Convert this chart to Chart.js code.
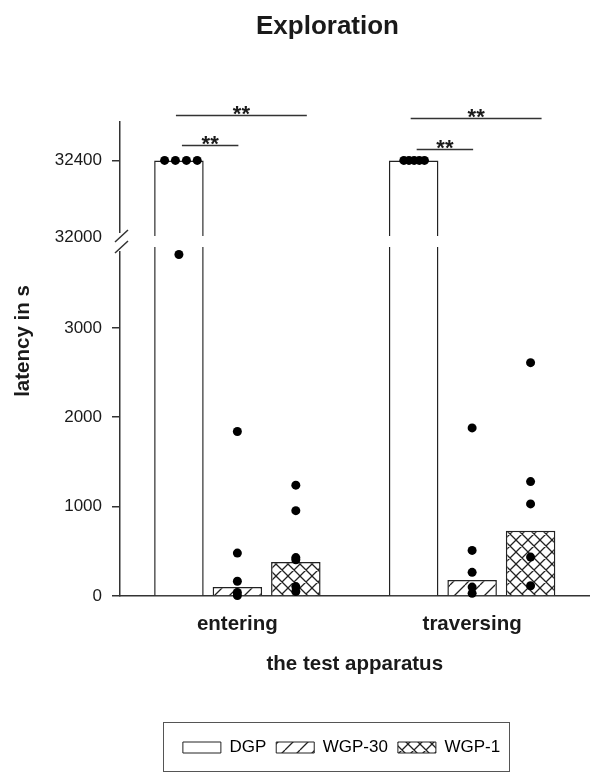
<!DOCTYPE html>
<html>
<head>
<meta charset="utf-8">
<title>Exploration</title>
<script src="https://cdn.jsdelivr.net/npm/chart.js@4.4.1/dist/chart.umd.min.js"></script>
<style>
  html, body { margin: 0; padding: 0; background: #fff; }
  #wrap { width: 594px; height: 774px; position: relative; }
</style>
</head>
<body>
<div id="wrap"><canvas id="exploracionChart"></canvas></div>
<script>
// categories and groups
const categories = ['entering', 'traversing'];
const groupNames = ['DGP', 'WGP-30', 'WGP-1'];

// bar heights (latency in s), one value per category
const barDGP = [32400, 32400];
const barWGP30 = [100, 180];
const barWGP1 = [380, 730];

// single animals, per category
const dotsDGP = [[32400, 32400, 32400, 32400, 3820], [32400, 32400, 32400, 32400, 32400]];
const dotsWGP30 = [[1840, 480, 165, 40, 5], [1880, 510, 265, 100, 30]];
const dotsWGP1 = [[1240, 955, 430, 405, 105, 50], [2610, 1280, 1030, 435, 115]];

// tick labels of the two axis segments
const lowerTicks = [0, 1000, 2000, 3000];
const upperTicks = [32000, 32400];

// significance brackets: category, group from -> group to, height on upper segment
const sigBrackets = [
  { cat: 0, from: 0, to: 1, level: 32480, label: '**' },
  { cat: 0, from: 0, to: 2, level: 32636, label: '**' },
  { cat: 1, from: 0, to: 1, level: 32459, label: '**' },
  { cat: 1, from: 0, to: 2, level: 32621, label: '**' }
];

// axis break
const lowerMax = 3960;
const upperMin = 31975;
const upperMax = 32600;

// group layout inside a category (category units)
const pitch = 0.249;
const barPct = 0.847;
const barSets = [barDGP, barWGP30, barWGP1];
const dotSets = [dotsDGP, dotsWGP30, dotsWGP1];
// sideways spread of coinciding points (fraction of a category)
const dotSpread = [[[-0.061, -0.015, 0.032, 0.078, 0], [-0.042, -0.020, 0.002, 0.024, 0.046]], null, null];

const FONT = "'Liberation Sans', Arial, Helvetica, sans-serif";
const INK = '#1a1a1a';
Chart.defaults.font.family = FONT;
Chart.defaults.color = INK;

function hatch(size, cross) {
  const c = document.createElement('canvas');
  c.width = size; c.height = size;
  const g = c.getContext('2d');
  g.fillStyle = '#fff';
  g.fillRect(0, 0, size, size);
  g.strokeStyle = '#222';
  g.lineWidth = 1.3;
  g.beginPath();
  for (const o of [-size, 0, size]) {
    g.moveTo(o, size); g.lineTo(o + size, 0);
    if (cross) { g.moveTo(o, 0); g.lineTo(o + size, size); }
  }
  g.stroke();
  return g.createPattern(c, 'repeat');
}
const fills = ['#fff', hatch(15, false), hatch(12, true)];

const groupX = (i, k) => i + (k - 1) * pitch;

function dotPoints(upper) {
  const pts = [];
  dotSets.forEach((perCat, k) => {
    perCat.forEach((vals, i) => {
      vals.forEach((v, j) => {
        if ((v >= upperMin) !== upper) return;
        const dx = dotSpread[k] ? dotSpread[k][i][j] : 0;
        pts.push({ x: groupX(i, k) + dx, y: v });
      });
    });
  });
  return pts;
}

const dotStyle = { type: 'scatter', xAxisID: 'xDots', pointRadius: 4.5, pointHoverRadius: 4.5,
  pointBackgroundColor: '#000', pointBorderWidth: 0, clip: false, order: 0 };
const barStyle = { xAxisID: 'xDots', order: 1, grouped: false, borderColor: '#222', borderWidth: 1.5,
  categoryPercentage: 1, barPercentage: barPct };

const datasets = [
  Object.assign({ label: 'dots upper', yAxisID: 'yUpper', data: dotPoints(true) }, dotStyle),
  Object.assign({ label: 'dots lower', yAxisID: 'yLower', data: dotPoints(false) }, dotStyle)
];
// lower part of every bar
groupNames.forEach((name, k) => {
  datasets.push(Object.assign({ label: name, yAxisID: 'yLower', backgroundColor: fills[k],
    data: barSets[k].map((v, i) => ({ x: groupX(i, k), y: Math.min(v, lowerMax) })) }, barStyle));
});
// part above the break
groupNames.forEach((name, k) => {
  datasets.push(Object.assign({ label: name + ' upper', yAxisID: 'yUpper', backgroundColor: fills[k],
    data: barSets[k].map((v, i) => ({ x: groupX(i, k), y: v > upperMin ? [upperMin, v] : null })) }, barStyle));
});

function yAxis(weight, min, max, ticks) {
  return {
    type: 'linear', position: 'left', stack: 'y', stackWeight: weight,
    min: min, max: max, stacked: false,
    afterBuildTicks: s => { s.ticks = ticks.map(v => ({ value: v })); },
    afterFit: s => { s.width = 31; },
    grid: { drawOnChartArea: false, tickLength: 8, color: '#333', lineWidth: 1.5 },
    border: { color: '#333', width: 1.5 },
    ticks: { font: { size: 17 }, color: INK, padding: 10, callback: v => String(v) }
  };
}

// extra drawing: axis break, brackets, titles, legend frame
const extras = {
  id: 'extras',
  afterLayout(chart) {
    // labels of the y segments are clipped to the axis box, let them use the margin
    chart.scales.yUpper.left = 0;
    chart.scales.yLower.left = 0;
  },
  afterDraw(chart) {
    const ctx = chart.ctx;
    const area = chart.chartArea;
    const yU = chart.scales.yUpper;
    const cut = yU.bottom;
    ctx.save();
    ctx.fillStyle = '#fff';
    ctx.fillRect(area.left + 2, cut - 6, area.right - area.left, 11);
    ctx.fillRect(area.left - 12, cut - 9, 14, 18);
    ctx.strokeStyle = '#333';
    ctx.lineWidth = 1.5;
    ctx.beginPath();
    ctx.moveTo(area.left - 5, cut); ctx.lineTo(area.left + 8, cut - 12);
    ctx.moveTo(area.left - 5, cut + 11); ctx.lineTo(area.left + 8, cut - 1);
    ctx.stroke();

    // brackets
    ctx.font = 'bold 22px ' + FONT;
    ctx.fillStyle = INK;
    ctx.textAlign = 'center';
    ctx.textBaseline = 'alphabetic';
    sigBrackets.forEach(b => {
      const c0 = chart.getDatasetMeta(2 + b.from).data[b.cat].x;
      const c1 = chart.getDatasetMeta(2 + b.to).data[b.cat].x;
      const x0 = c0 + (b.to === 1 ? 3 : -3);
      const x1 = c1 + (b.to === 1 ? 1 : 11);
      const y = Math.round(yU.getPixelForValue(b.level)) + 0.5;
      ctx.beginPath();
      ctx.moveTo(x0, y); ctx.lineTo(x1, y);
      ctx.stroke();
      ctx.fillText(b.label, (x0 + x1) / 2, y + 5);
    });

    // chart title and y title
    ctx.font = 'bold 26px ' + FONT;
    ctx.fillText('Exploration', 327.5, 34);
    ctx.save();
    ctx.translate(29, 341);
    ctx.rotate(-Math.PI / 2);
    ctx.font = 'bold 20.5px ' + FONT;
    ctx.fillText('latency in s', 0, 0);
    ctx.restore();

    // legend frame
    const hb = chart.legend.legendHitBoxes;
    if (hb && hb.length) {
      const last = hb[hb.length - 1];
      const l = Math.round(hb[0].left - 20) + 0.5;
      const r = Math.round(last.left + last.width + 9) + 0.5;
      const t = Math.round(hb[0].top - 17) + 0.5;
      ctx.lineWidth = 1;
      ctx.strokeStyle = '#555';
      ctx.strokeRect(l, t, r - l, 49);
    }
    ctx.restore();
  }
};

const ctx = document.getElementById('exploracionChart').getContext('2d');
const exploracionChart = new Chart(ctx, {
  type: 'bar',
  data: { labels: categories, datasets: datasets },
  options: {
    responsive: true,
    maintainAspectRatio: false,
    animation: false,
    layout: { padding: { left: 89, right: 0, top: 122, bottom: 8 } },
    scales: {
      x: {
        type: 'category', offset: true,
        grid: { display: false, drawTicks: false },
        border: { display: true, color: '#333', width: 1.5 },
        ticks: { font: { size: 20.5, weight: 'bold' }, color: INK, padding: 16 },
        title: { display: true, text: 'the test apparatus', color: INK,
          font: { size: 20.5, weight: 'bold' }, padding: { top: 0, bottom: 52 } },
        afterFit: s => { s.height = 133; }
      },
      // hidden numeric twin of x, used to place bars and dots inside a category
      xDots: { type: 'linear', display: false, offset: false, grid: { offset: false }, min: -0.5, max: 1.5 },
      // in a stack of left axes the one declared last ends up on top
      yLower: yAxis(354, 0, lowerMax, lowerTicks),
      yUpper: yAxis(120, upperMin, upperMax, upperTicks)
    },
    plugins: {
      title: { display: false },
      tooltip: { enabled: false },
      legend: {
        position: 'bottom',
        onClick: null,
        labels: {
          boxWidth: 38, boxHeight: 11, padding: 10, color: INK,
          font: { size: 17 },
          generateLabels: () => groupNames.map((name, k) => ({
            text: name, fillStyle: fills[k], strokeStyle: '#222', lineWidth: 1,
            hidden: false, datasetIndex: 2 + k
          }))
        }
      }
    }
  },
  plugins: [extras]
});
</script>
</body>
</html>
